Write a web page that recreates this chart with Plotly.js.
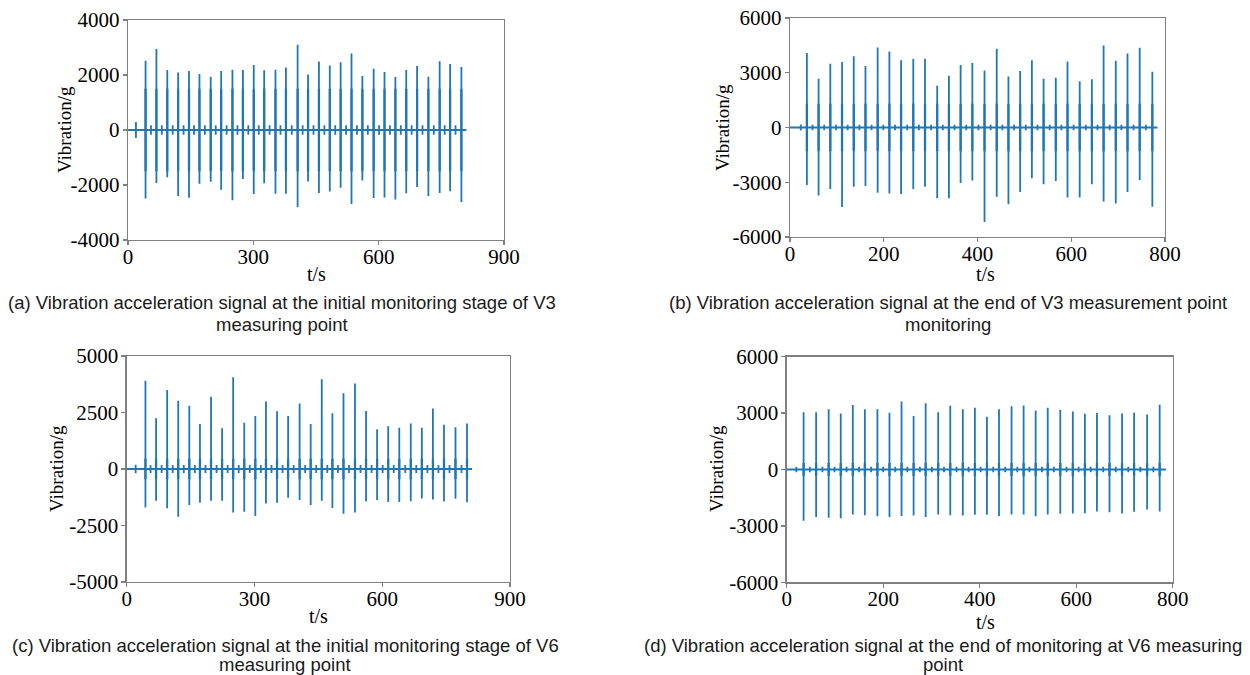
<!DOCTYPE html>
<html><head><meta charset="utf-8">
<script src="https://cdn.plot.ly/plotly-3.0.1.min.js"></script>
<style>html,body{margin:0;padding:0;background:#fff}</style>
</head><body><div id="chart" style="width:1250px;height:675px"></div>
<script>
// ---------- DATA ----------
// (a) V3 initial stage
const aSpikeT   = [42,68,94,120,146,171,198,223,250,275,301,326,353,378,406,431,457,483,509,535,561,588,614,640,666,692,719,746,771,798];
const aSpikePos = [2520,2950,2180,2090,2150,2040,1940,2150,2190,2180,2360,2170,2190,2270,3100,2020,2490,2350,2460,2780,1960,2230,2110,1930,2180,2330,1940,2500,2400,2290];
const aSpikeNeg = [-2490,-1930,-1720,-2400,-2460,-1950,-1880,-2170,-2550,-1780,-2330,-1940,-2320,-2320,-2810,-1870,-2290,-2240,-2100,-2690,-1840,-2470,-2450,-2530,-2300,-2070,-2400,-2290,-2230,-2620];
const aBurstT   = [19,55,81,107,133,158,184,210,236,262,288,313,339,365,392,418,444,470,496,522,548,574,601,627,653,679,705,732,758,784];
const aBurstAmp = [290,170,170,170,170,170,170,170,170,170,170,170,170,170,170,170,170,170,170,170,170,170,170,170,170,170,170,170,170,170];
const aCore = 1500, aEnd = 810;

// (b) V3 end of monitoring
const bSpikeT   = [36,61,86,111,136,161,187,212,237,263,288,314,339,364,389,415,441,466,491,516,541,567,592,618,644,669,695,720,746,773];
const bSpikePos = [4080,2670,3500,3590,3900,3370,4390,4170,3680,3750,3770,2290,2840,3420,3530,3130,4320,2800,3090,3680,2670,2730,3610,2540,2650,4500,3660,4060,4370,3060];
const bSpikeNeg = [-3150,-3720,-3370,-4360,-3240,-3200,-3570,-3610,-3640,-3370,-3240,-3880,-3880,-3040,-2910,-5180,-3790,-4210,-3530,-2780,-3110,-2930,-3840,-3840,-3110,-4060,-4170,-3530,-2870,-4340];
const bBurstT   = [23,48,73,98,123,148,174,199,224,250,275,301,326,351,376,402,428,453,478,503,528,554,579,605,631,656,682,707,733,759];
const bBurstAmp = [160,150,150,150,150,150,150,150,150,150,150,150,150,150,150,150,150,150,150,150,150,150,150,150,150,150,150,150,150,150];
const bCore = 1300, bEnd = 784;

// (c) V6 initial stage
const cSpikeT   = [44,69,95,121,147,172,198,224,250,276,302,327,353,379,406,432,458,483,509,536,562,588,614,640,667,693,719,745,772,799];
const cSpikePos = [3910,2250,3500,3020,2800,1990,3200,1800,4060,2050,2350,2990,2560,2350,2900,1990,3970,2470,3350,3780,2570,1760,1890,1830,2010,1830,2680,1960,1850,2010];
const cSpikeNeg = [-1700,-1400,-1740,-2110,-1590,-1490,-1410,-1400,-1920,-1890,-2080,-1530,-1490,-1270,-1370,-1590,-1410,-1730,-1980,-1930,-1440,-1370,-1460,-1460,-1430,-1300,-1350,-1440,-1320,-1470];
const cBurstT   = [21,56,82,108,134,160,185,211,237,263,289,315,340,366,392,419,445,471,496,522,549,575,601,627,654,680,706,732,758,786];
const cBurstAmp = [190,180,180,180,180,180,180,180,180,180,180,180,180,180,180,180,180,180,180,180,180,180,180,180,180,180,180,180,180,180];
const cCore = 450, cEnd = 811;

// (d) V6 end of monitoring
const dSpikeT   = [35,61,87,112,137,162,188,213,238,263,288,314,339,365,390,415,440,466,491,516,541,567,593,618,643,669,695,720,747,773];
const dSpikePos = [3040,3050,3210,2980,3430,3200,3200,3020,3620,2840,3530,3040,3390,3210,3280,2810,3200,3370,3410,3140,3280,3180,3090,2960,3000,2890,2980,3020,2930,3440];
const dSpikeNeg = [-2730,-2520,-2560,-2590,-2400,-2430,-2490,-2520,-2470,-2450,-2520,-2400,-2430,-2450,-2410,-2410,-2470,-2400,-2400,-2490,-2400,-2360,-2340,-2330,-2240,-2270,-2340,-2250,-2130,-2240];
const dBurstT   = [20,48,74,99,124,150,175,200,225,250,276,301,326,352,377,402,428,453,478,503,529,554,580,605,630,656,682,708,733,760];
const dBurstAmp = [150,140,140,140,140,140,140,140,140,140,140,140,140,140,140,140,140,140,140,140,140,140,140,140,140,140,140,140,140,140];
const dCore = 350, dEnd = 786;

const xTicksA = [0,300,600,900], yTicksA = [-4000,-2000,0,2000,4000];
const xTicksB = [0,200,400,600,800], yTicksB = [-6000,-3000,0,3000,6000];
const xTicksC = [0,300,600,900], yTicksC = [-5000,-2500,0,2500,5000];
const xTicksD = [0,200,400,600,800], yTicksD = [-6000,-3000,0,3000,6000];

const captions = [
  ["(a) Vibration acceleration signal at the initial monitoring stage of V3", "measuring point"],
  ["(b) Vibration acceleration signal at the end of V3 measurement point", "monitoring"],
  ["(c) Vibration acceleration signal at the initial monitoring stage of V6", "measuring point"],
  ["(d) Vibration acceleration signal at the end of monitoring at V6 measuring", "point"]
];
const yTitle = "Vibration/g", xTitle = "t/s";

// ---------- BUILD ----------
const W = 1250, H = 675;
const px = v => v / W, py = v => 1 - v / H;
const BLUE = '#1f77b4';
const serif = 'Liberation Serif';
const sans = 'Liberation Sans';

function buildSignal(spT, spPos, spNeg, bT, bAmp, tEnd) {
  const ev = [];
  spT.forEach((t, i) => ev.push([t, spPos[i], spNeg[i]]));
  bT.forEach((t, i) => ev.push([t, bAmp[i], -bAmp[i]]));
  ev.sort((p, q) => p[0] - q[0]);
  const x = [0], y = [0];
  ev.forEach(e => { x.push(e[0], e[0], e[0], e[0]); y.push(0, e[1], e[2], 0); });
  x.push(tEnd); y.push(0);
  return { x, y };
}
function buildCore(spT, core) {
  const x = [], y = [];
  spT.forEach(t => { x.push(t, t, null); y.push(-core, core, null); });
  return { x, y };
}

const panels = [
  { sT: aSpikeT, sP: aSpikePos, sN: aSpikeNeg, bT: aBurstT, bA: aBurstAmp, core: aCore, end: aEnd,
    xr: [0, 900], yr: [-4000, 4000], xt: xTicksA, yt: yTicksA, box: [128, 504, 20, 240],
    ytPos: [64, 130], xtPos: [316, 274], cap: [282, 302, 324] },
  { sT: bSpikeT, sP: bSpikePos, sN: bSpikeNeg, bT: bBurstT, bA: bBurstAmp, core: bCore, end: bEnd,
    xr: [0, 800], yr: [-6000, 6000], xt: xTicksB, yt: yTicksB, box: [790, 1165, 18, 237],
    ytPos: [723, 128], xtPos: [986, 274], cap: [948, 302, 324] },
  { sT: cSpikeT, sP: cSpikePos, sN: cSpikeNeg, bT: cBurstT, bA: cBurstAmp, core: cCore, end: cEnd,
    xr: [0, 900], yr: [-5000, 5000], xt: xTicksC, yt: yTicksC, box: [126.7, 510, 356, 582],
    ytPos: [56, 469], xtPos: [318, 616], cap: [285, 645, 664] },
  { sT: dSpikeT, sP: dSpikePos, sN: dSpikeNeg, bT: dBurstT, bA: dBurstAmp, core: dCore, end: dEnd,
    xr: [0, 800], yr: [-6000, 6000], xt: xTicksD, yt: yTicksD, box: [786.7, 1172.7, 356.7, 582.3],
    ytPos: [716, 469], xtPos: [986, 622], cap: [943, 645, 664] }
];

const data = [], annotations = [];
const layout = {
  width: W, height: H, margin: { l: 0, r: 0, t: 0, b: 0 },
  paper_bgcolor: '#fff', plot_bgcolor: '#fff', showlegend: false,
  font: { family: serif, size: 21, color: '#000' }
};

panels.forEach((p, i) => {
  const n = i === 0 ? '' : String(i + 1);
  const sig = buildSignal(p.sT, p.sP, p.sN, p.bT, p.bA, p.end);
  const core = buildCore(p.sT, p.core);
  data.push({ type: 'scatter', mode: 'lines', x: core.x, y: core.y, xaxis: 'x' + n, yaxis: 'y' + n,
    line: { color: BLUE, width: 2.3 }, hoverinfo: 'skip', connectgaps: false });
  data.push({ type: 'scatter', mode: 'lines', x: sig.x, y: sig.y, xaxis: 'x' + n, yaxis: 'y' + n,
    line: { color: BLUE, width: 1.8 }, hoverinfo: 'skip' });
  const mk = () => ({
    showgrid: false, zeroline: false, showline: true, mirror: true,
    linecolor: '#808080', linewidth: 1.3, ticks: 'outside', ticklen: 4, tickwidth: 1.3, tickcolor: '#808080',
    tickfont: { family: serif, size: 21, color: '#000' }, tickmode: 'array', fixedrange: true
  });
  layout['xaxis' + n] = Object.assign(mk(), {
    domain: [px(p.box[0]), px(p.box[1])], range: p.xr, tickvals: p.xt, ticktext: p.xt.map(String),
    anchor: 'y' + n, ticklabelstandoff: -7
  });
  layout['yaxis' + n] = Object.assign(mk(), {
    domain: [py(p.box[3]), py(p.box[2])], range: p.yr, tickvals: p.yt, ticktext: p.yt.map(String),
    anchor: 'x' + n, ticklabelstandoff: -1
  });
  annotations.push({ xref: 'paper', yref: 'paper', x: px(p.ytPos[0]), y: py(p.ytPos[1]), text: yTitle,
    textangle: -90, showarrow: false, xanchor: 'center', yanchor: 'middle',
    font: { family: serif, size: 19, color: '#000' } });
  annotations.push({ xref: 'paper', yref: 'paper', x: px(p.xtPos[0]), y: py(p.xtPos[1]), text: xTitle,
    showarrow: false, xanchor: 'center', yanchor: 'middle',
    font: { family: serif, size: 20, color: '#000' } });
  annotations.push({ xref: 'paper', yref: 'paper', x: px(p.cap[0]), y: py(p.cap[1]), text: captions[i][0],
    showarrow: false, xanchor: 'center', yanchor: 'middle',
    font: { family: sans, size: 18.5, color: '#1a1a1a' } });
  annotations.push({ xref: 'paper', yref: 'paper', x: px(p.cap[0]), y: py(p.cap[2]), text: captions[i][1],
    showarrow: false, xanchor: 'center', yanchor: 'middle',
    font: { family: sans, size: 18.5, color: '#1a1a1a' } });
});
layout.annotations = annotations;

Plotly.newPlot('chart', data, layout, { staticPlot: true, displayModeBar: false });
</script>
</body></html>
